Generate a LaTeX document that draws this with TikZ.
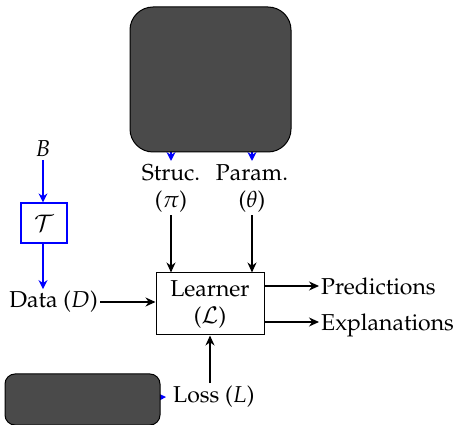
\documentclass[tikz,border=0pt]{standalone}
\usepackage[T1]{fontenc}
\usepackage{mathpazo}
\usetikzlibrary{arrows.meta}
\pgfdeclarelayer{bg}
\pgfsetlayers{bg,main}
\definecolor{darkfill}{HTML}{4A4A4A}
\tikzset{
  every node/.style={font=\fontsize{23}{27}\selectfont},
  blk/.style={line width=1.1pt, -{Stealth[length=10pt,width=9pt]}},
  blu/.style={blue, line width=1.4pt, -{Stealth[length=9pt,width=9pt]}},
  darkbox/.style={draw=black, fill=darkfill, line width=1pt},
  learnbox/.style={draw, line width=1pt, minimum width=108pt, minimum height=62pt, inner sep=0pt, align=center},
  tbox/.style={draw=blue, line width=1.2pt, minimum width=46pt, minimum height=40pt, inner sep=0pt},
  lbl/.style={inner sep=3pt},
  two/.style={align=center, inner sep=3pt}
}
\begin{document}
\begin{tikzpicture}[x=1pt,y=-1pt]
\useasboundingbox (0,0) rectangle (456,425);
% dark boxes
\node[darkbox, rounded corners=23pt, minimum width=161pt, minimum height=145pt] (top) at (210.5,79.5) {};
\node[darkbox, rounded corners=10pt, minimum width=155pt, minimum height=51pt] (bot) at (82.5,399.5) {};
% labels
\node[two, anchor=north] (struc) at (171,161) {Struc.\\($\pi$)};
\node[two, anchor=north] (param) at (252,161) {Param.\\($\theta$)};
\node[learnbox] (learner) at (210,304) {Learner\\($\mathcal{L}$)};
\node[lbl, anchor=west, inner sep=2pt, text depth=0pt] (pred) at (319,286) {Predictions};
\node[lbl, anchor=west, inner sep=2pt, text depth=0pt] (expl) at (319,322) {Explanations};
\node[lbl, anchor=east, inner sep=2pt] (data) at (100,302) {Data ($D$)};
\node[lbl, inner xsep=7pt, anchor=west] (loss) at (166,397) {Loss ($L$)};
\node[lbl] (B) at (43,149) {$B$};
\node[tbox] (T) at (44,223) {$\mathcal{T}$};
% hidden blue arrows
\begin{pgfonlayer}{bg}
\draw[blu] (top.center -| struc.north) -- (struc.north);
\draw[blu] (top.center -| param.north) -- (param.north);
\draw[blu] (bot.center) -- (loss.west);
\end{pgfonlayer}
% blue chain
\draw[blu] (B.south) -- (T.north -| B.south);
\draw[blu] (T.south -| B.south) -- (B.south |- data.north);
% black arrows
\draw[blk] (struc.south) -- (struc.south |- learner.north);
\draw[blk] (param.south) -- (param.south |- learner.north);
\draw[blk] (data.east) -- (data.east -| learner.west);
\draw[blk] (learner.east |- pred.west) -- (pred.west);
\draw[blk] (learner.east |- expl.west) -- (expl.west);
\draw[blk] (learner.south |- loss.north) -- (learner.south);
\end{tikzpicture}
\end{document}
